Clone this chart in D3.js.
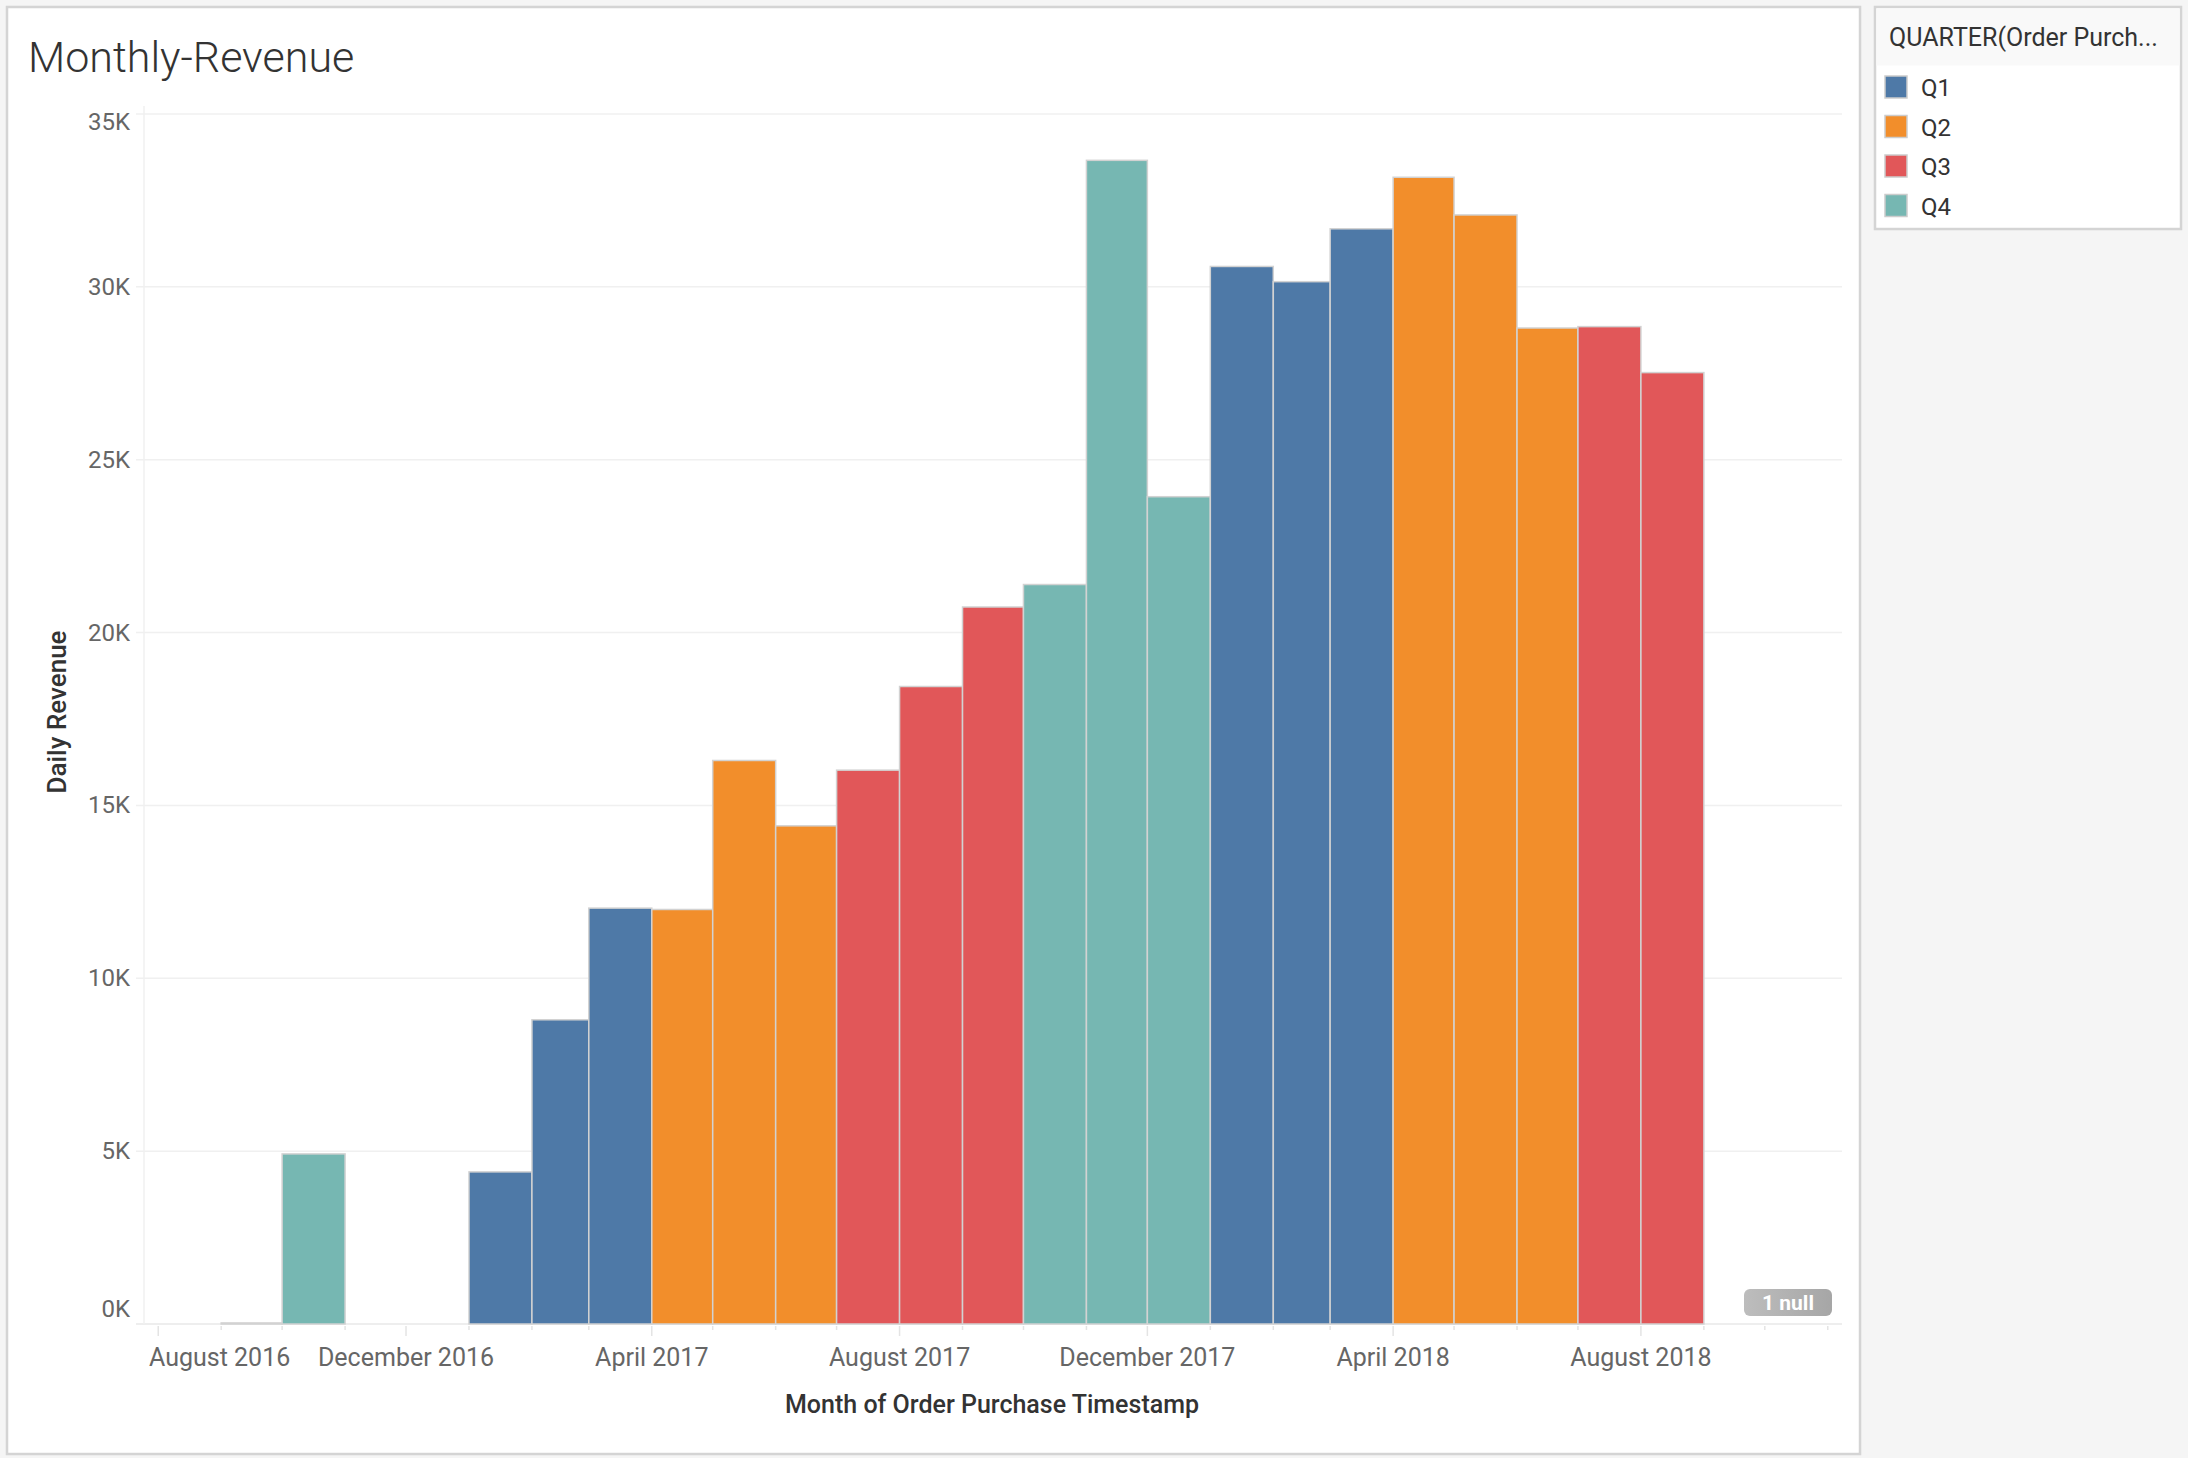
<!DOCTYPE html>
<html>
<head>
<meta charset="utf-8">
<script src="https://cdn.jsdelivr.net/npm/d3@7"></script>
<style>
  body { margin: 0; background: #f5f5f5; }
  svg { display: block; font-family: Roboto, "Noto Sans", sans-serif; }
</style>
</head>
<body>
<svg id="chart" width="2188" height="1458"></svg>
<script>
// data
const months = ["2016-09", "2016-10", "2017-01", "2017-02", "2017-03", "2017-04", "2017-05",
  "2017-06", "2017-07", "2017-08", "2017-09", "2017-10", "2017-11", "2017-12", "2018-01",
  "2018-02", "2018-03", "2018-04", "2018-05", "2018-06", "2018-07", "2018-08"];
const revenue = [30, 4920, 4400, 8800, 12030, 11990, 16300, 14410, 16020, 18440, 20740,
  21390, 33660, 23930, 30590, 30150, 31680, 33170, 32080, 28810, 28850, 27520];
const quarters = ["Q1", "Q2", "Q3", "Q4"];
const quarterColors = ["#4e79a7", "#f28e2b", "#e15759", "#76b7b2"];
const yTicks = [0, 5000, 10000, 15000, 20000, 25000, 30000, 35000];
const xTickLabels = ["2016-08", "2016-12", "2017-04", "2017-08", "2017-12", "2018-04", "2018-08"];
const nullCount = 1;

const parseMonth = d3.timeParse("%Y-%m");
const fmtMonth = d3.timeFormat("%B %Y");

const svg = d3.select("#chart");

// panels
svg.append("rect").attr("x", 7).attr("y", 7).attr("width", 1853).attr("height", 1447)
  .attr("fill", "#fff").attr("stroke", "#d4d4d4").attr("stroke-width", 2.5);
svg.append("rect").attr("x", 1875).attr("y", 7).attr("width", 306).attr("height", 222)
  .attr("fill", "#fff").attr("stroke", "#d4d4d4").attr("stroke-width", 2.5);

svg.append("text").attr("x", 28).attr("y", 72)
  .attr("font-size", 43).attr("font-weight", 300).attr("fill", "#333")
  .text("Monthly-Revenue");

const plotL = 144, plotR = 1842, plotT = 114, plotB = 1324;

const x = d3.scaleTime()
  .domain([new Date(2016, 6, 25), new Date(2018, 10, 8)])
  .range([plotL, plotR]);
const y = d3.scaleLinear().domain([0, 35000]).range([plotB, plotT]);

// gridlines
svg.append("g").selectAll("line").data(yTicks).enter().append("line")
  .attr("x1", plotL - 8).attr("x2", plotR)
  .attr("y1", d => y(d)).attr("y2", d => y(d))
  .attr("stroke", d => d === 0 ? "#e8e8e8" : "#f0f0f0").attr("stroke-width", 1.5);
svg.append("line").attr("x1", plotL).attr("x2", plotL).attr("y1", plotT - 8).attr("y2", plotB)
  .attr("stroke", "#f0f0f0").attr("stroke-width", 1.5);

// end labels are pushed inside the plot, like tableau does
svg.append("g").selectAll("text").data(yTicks).enter().append("text")
  .attr("x", 130)
  .attr("y", d => y(d) + (d === 0 ? -7 : d === 35000 ? 16 : 8))
  .attr("text-anchor", "end").attr("font-size", 24).attr("fill", "#666")
  .text(d => d3.format("d")(d / 1000) + "K");

svg.append("text")
  .attr("transform", "translate(66,712) rotate(-90)")
  .attr("text-anchor", "middle").attr("font-size", 26).attr("font-weight", 500)
  .attr("fill", "#333").text("Daily Revenue");

// x ticks
const allMonths = d3.timeMonth.range(new Date(2016, 7, 1), new Date(2018, 10, 2));
const majors = xTickLabels.map(m => +parseMonth(m));
svg.append("g").selectAll("line").data(allMonths).enter().append("line")
  .attr("x1", d => x(d)).attr("x2", d => x(d))
  .attr("y1", plotB + 2).attr("y2", d => majors.includes(+d) ? plotB + 12 : plotB + 6)
  .attr("stroke", "#e4e4e4").attr("stroke-width", 1.5);

svg.append("g").selectAll("text").data(xTickLabels).enter().append("text")
  .attr("y", 1366).attr("text-anchor", "middle").attr("font-size", 25).attr("fill", "#666")
  .text(d => fmtMonth(parseMonth(d)))
  .attr("x", function (d) {
    const half = this.getComputedTextLength() / 2;
    return Math.max(x(parseMonth(d)), plotL + 5 + half);
  });

svg.append("text").attr("x", 992).attr("y", 1413)
  .attr("text-anchor", "middle").attr("font-size", 25).attr("font-weight", 500)
  .attr("fill", "#333").text("Month of Order Purchase Timestamp");

// bars
svg.append("g").selectAll("rect").data(months).enter().append("rect")
  .attr("x", d => x(parseMonth(d)))
  .attr("width", d => x(d3.timeMonth.offset(parseMonth(d), 1)) - x(parseMonth(d)))
  .attr("y", (d, i) => y(revenue[i]))
  .attr("height", (d, i) => y(0) - y(revenue[i]))
  .attr("fill", d => quarterColors[Math.floor(parseMonth(d).getMonth() / 3)])
  .attr("stroke", "#d2d2d2").attr("stroke-width", 1.5);

// null badge
const defs = svg.append("defs");
const grad = defs.append("linearGradient").attr("id", "nullGrad");
grad.append("stop").attr("offset", "0%").attr("stop-color", "#bdbdbd");
grad.append("stop").attr("offset", "100%").attr("stop-color", "#a6a6a6");
svg.append("rect").attr("x", 1744).attr("y", 1289).attr("width", 88).attr("height", 27)
  .attr("rx", 6).attr("fill", "url(#nullGrad)");
svg.append("text").attr("x", 1788).attr("y", 1310).attr("text-anchor", "middle")
  .attr("font-size", 21).attr("font-weight", 700).attr("fill", "#fff")
  .text(nullCount + " null");

// legend
svg.append("rect").attr("x", 1876.5).attr("y", 8.5).attr("width", 303).attr("height", 57)
  .attr("fill", "#f9f9f9");
svg.append("text").attr("x", 1889).attr("y", 46).attr("font-size", 25).attr("fill", "#333")
  .text("QUARTER(Order Purch...");
const lg = svg.append("g").selectAll("g").data(quarters).enter().append("g")
  .attr("transform", (d, i) => `translate(1885,${76 + i * 39.5})`);
lg.append("rect").attr("width", 22).attr("height", 22)
  .attr("fill", (d, i) => quarterColors[i]).attr("stroke", "#ccc").attr("stroke-width", 1.5);
lg.append("text").attr("x", 36).attr("y", 20).attr("font-size", 24).attr("fill", "#333")
  .text(d => d);
</script>
</body>
</html>
